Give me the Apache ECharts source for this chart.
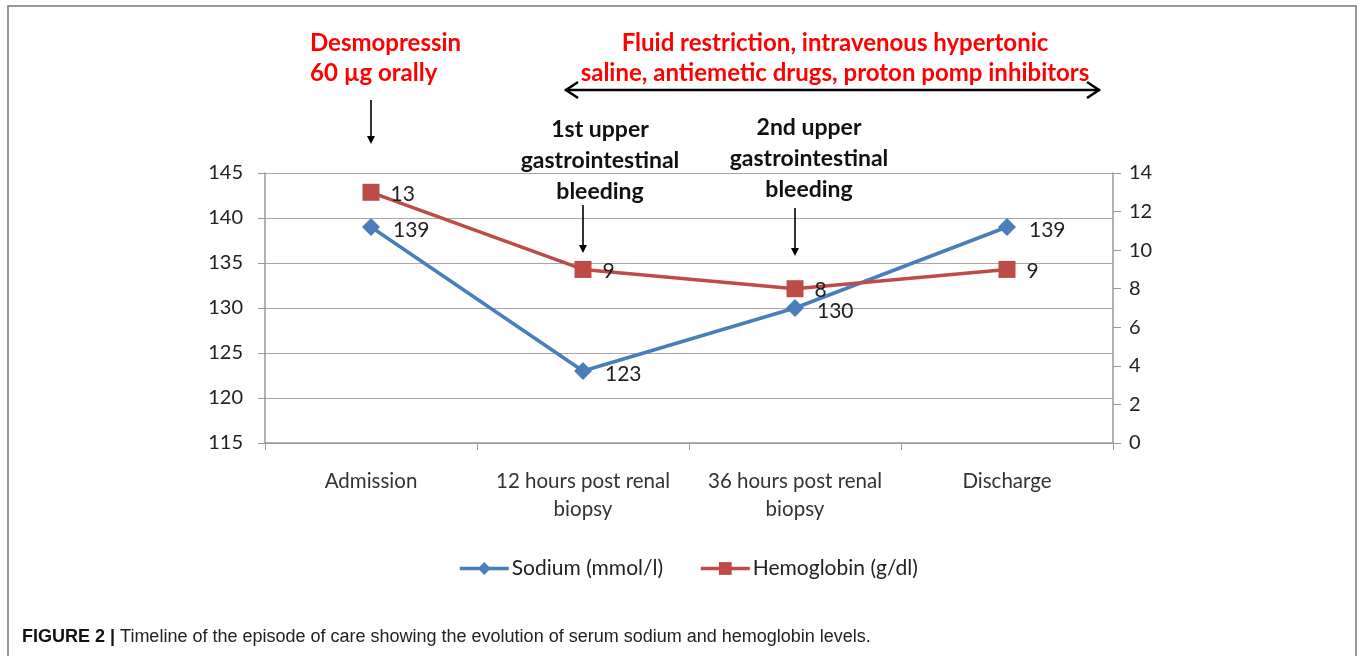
<!DOCTYPE html>
<html>
<head>
<meta charset="utf-8">
<script src="https://cdn.jsdelivr.net/npm/echarts@6/dist/echarts.min.js"></script>
<style>
  html, body { margin: 0; padding: 0; background: #fff; }
  #chart { width: 1357px; height: 656px; }
</style>
</head>
<body>
<div id="chart"></div>
<script>
var categories = ['Admission', '12 hours post renal\nbiopsy', '36 hours post renal\nbiopsy', 'Discharge']
var sodium = [139, 123, 130, 139]
var hemoglobin = [13, 9, 8, 9]
var leftTicks = [115, 120, 125, 130, 135, 140, 145]
var rightTicks = [0, 2, 4, 6, 8, 10, 12, 14]

var FONT = 'Lato, "Open Sans", sans-serif'
var myChart = echarts.init(document.getElementById('chart'))

var option = {
  animation: false,
  grid: { left: 265, right: 244, top: 173, bottom: 213 },
  legend: {
    top: 553,
    left: 453,
    itemWidth: 49,
    itemHeight: 16,
    itemGap: 36,
    lineStyle: { width: 3.5 },
    textStyle: { fontFamily: FONT, fontSize: 21, color: '#222', padding: [0, 0, 0, -2] },
    data: ['Sodium (mmol/l)', 'Hemoglobin (g/dl)']
  },
  xAxis: {
    type: 'category',
    data: categories,
    boundaryGap: true,
    axisLine: { lineStyle: { color: '#999', width: 1.5 } },
    axisTick: { show: true, interval: 0, length: 7, inside: false, lineStyle: { color: '#999' } },
    axisLabel: { interval: 0, fontFamily: FONT, fontSize: 20.5, color: '#333', margin: 24, lineHeight: 28 }
  },
  yAxis: [{
    type: 'value',
    min: leftTicks[0],
    max: leftTicks[leftTicks.length - 1],
    interval: 5,
    axisLine: { show: true, lineStyle: { color: '#999', width: 1.5 } },
    axisTick: { show: true, length: 7, lineStyle: { color: '#999' } },
    splitLine: { lineStyle: { color: '#a6a6a6', width: 1.2 } },
    axisLabel: { fontFamily: FONT, fontSize: 20, color: '#222', margin: 22 }
  }, {
    type: 'value',
    position: 'right',
    min: rightTicks[0],
    max: rightTicks[rightTicks.length - 1],
    interval: 2,
    axisLine: { show: true, lineStyle: { color: '#999', width: 1.5 } },
    axisTick: { show: true, length: 8, lineStyle: { color: '#999' } },
    splitLine: { show: false },
    axisLabel: { fontFamily: FONT, fontSize: 20, color: '#222', margin: 16 }
  }],
  series: [{
    name: 'Sodium (mmol/l)',
    type: 'line',
    yAxisIndex: 0,
    data: sodium,
    symbol: 'diamond',
    symbolSize: 18,
    color: '#4a7ebb',
    lineStyle: { width: 3.5, color: '#4a7ebb' },
    label: {
      show: true, position: 'right', distance: 13, offset: [0, 3],
      fontFamily: FONT, fontSize: 21, color: '#222'
    },
    z: 2
  }, {
    name: 'Hemoglobin (g/dl)',
    type: 'line',
    yAxisIndex: 1,
    data: hemoglobin,
    symbol: 'rect',
    symbolSize: 17,
    color: '#be4b48',
    lineStyle: { width: 3.5, color: '#be4b48' },
    label: {
      show: true, position: 'right', distance: 11, offset: [0, 2],
      fontFamily: FONT, fontSize: 21, color: '#222'
    },
    z: 3
  }]
}
myChart.setOption(option)

// annotations, placed over the category positions
function catX (i) {
  return myChart.convertToPixel({ xAxisIndex: 0 }, i)
}
function downArrow (x, y1, y2) {
  return [
    { type: 'line', shape: { x1: x, y1: y1, x2: x, y2: y2 - 2 }, style: { stroke: '#000', lineWidth: 1.6 } },
    { type: 'polygon', shape: { points: [[x - 4, y2 - 8], [x + 4, y2 - 8], [x, y2]] }, style: { fill: '#000' } }
  ]
}
function text (x, y, str, color, size, lh, align) {
  return {
    type: 'text', x: x, y: y,
    style: {
      text: str, fill: color, align: align || 'center', verticalAlign: 'top',
      font: 'bold ' + size + 'px ' + FONT, lineHeight: lh
    }
  }
}

var x0 = catX(0)
var x1 = catX(1)
var x2 = catX(2)
var graphics = []
graphics.push({ type: 'rect', shape: { x: 8, y: 6, width: 1348, height: 700 }, style: { fill: null, stroke: '#777', lineWidth: 1.5 } })
graphics.push(text(310, 28, 'Desmopressin\n60 µg orally', '#ff0000', 24, 30, 'left'))
graphics = graphics.concat(downArrow(x0, 100, 144))
graphics.push(text(835, 28, 'Fluid restriction, intravenous hypertonic\nsaline, antiemetic drugs, proton pomp inhibitors', '#ff0000', 24, 30))
// double arrow
graphics.push({ type: 'line', shape: { x1: 565, y1: 90, x2: 1100, y2: 90 }, style: { stroke: '#000', lineWidth: 2.5 } })
graphics.push({ type: 'polyline', shape: { points: [[578, 82], [566, 90], [578, 98]] }, style: { stroke: '#000', lineWidth: 2.5, fill: null } })
graphics.push({ type: 'polyline', shape: { points: [[1087, 82], [1099, 90], [1087, 98]] }, style: { stroke: '#000', lineWidth: 2.5, fill: null } })
graphics.push(text(x1 + 17, 114, '1st upper\ngastrointestinal\nbleeding', '#111', 23, 31))
graphics = graphics.concat(downArrow(x1, 205, 253))
graphics.push(text(x2 + 14, 112, '2nd upper\ngastrointestinal\nbleeding', '#111', 23, 31))
graphics = graphics.concat(downArrow(x2, 208, 256))
// caption
graphics.push({
  type: 'text', x: 22, y: 637,
  style: {
    text: '{b|FIGURE 2 |} Timeline of the episode of care showing the evolution of serum sodium and hemoglobin levels.',
    verticalAlign: 'middle',
    font: '18px "Liberation Sans Narrow", "Liberation Sans", sans-serif',
    fill: '#222',
    rich: {
      b: { font: 'bold 18px "Liberation Sans", sans-serif', fill: '#111' }
    }
  }
})
myChart.setOption({ graphic: graphics })
</script>
</body>
</html>
